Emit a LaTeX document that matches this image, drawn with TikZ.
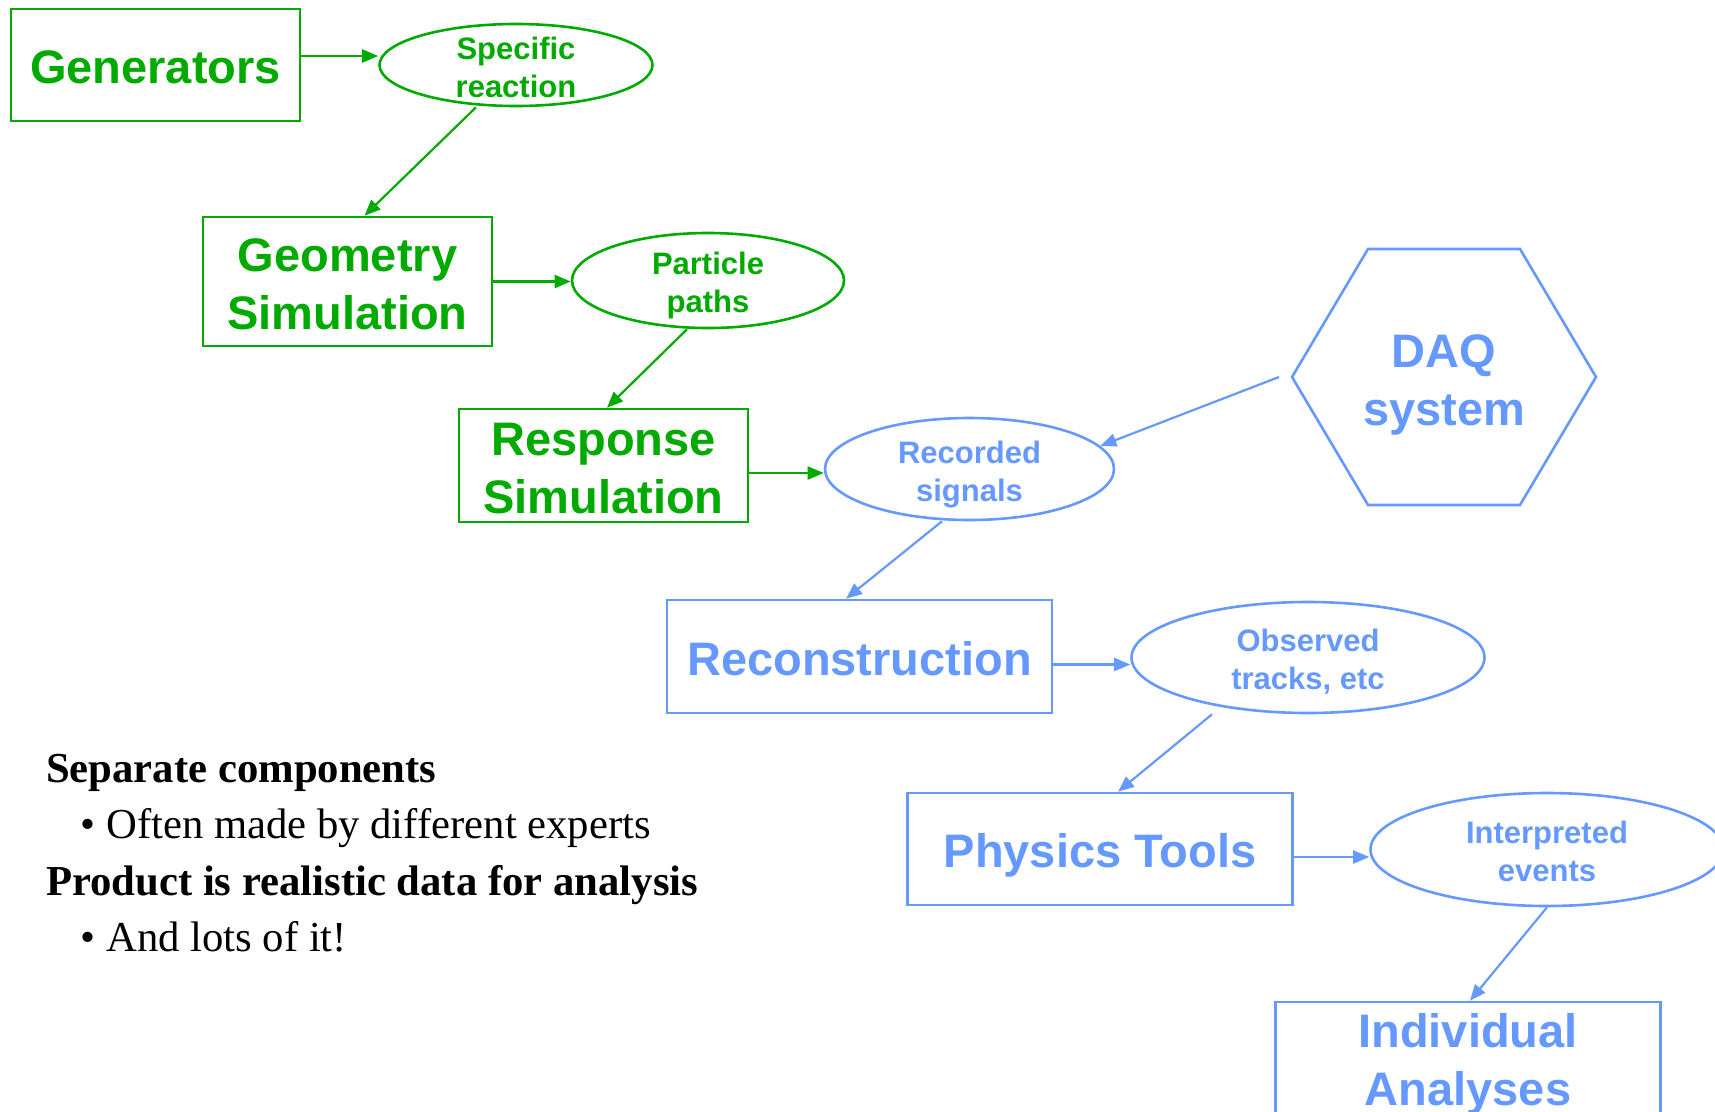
\documentclass[tikz,border=0pt]{standalone}
\usepackage{fontspec}
\setmainfont{Liberation Serif}
\newfontfamily\arialf{Liberation Sans}
\usetikzlibrary{shapes.geometric,arrows.meta}
\definecolor{gr}{RGB}{0,170,0}
\definecolor{bl}{RGB}{102,153,255}
\newcommand\vs{\rule[-0.234em]{0pt}{1.184em}}
\tikzset{
 box/.style={draw, rectangle, line width=2.6pt, inner sep=0pt},
 oval/.style={draw, ellipse, line width=2.6pt, inner sep=0pt},
 bigt/.style={inner sep=0pt, align=center, yshift=-1.8pt, font=\arialf\bfseries\fontsize{47}{58}\selectfont},
 smallt/.style={inner sep=0pt, align=center, yshift=-2pt, font=\arialf\bfseries\fontsize{31}{38}\selectfont},
 arr/.style={line width=2.2pt, -{Triangle[length=16pt,width=13pt]}},
 g/.style={gr},
 b/.style={bl},
 txt/.style={anchor=base west, inner sep=0pt, font=\fontsize{42.7}{50}\selectfont},
 btxt/.style={anchor=base west, inner sep=0pt, font=\bfseries\fontsize{42.7}{50}\selectfont},
}
\begin{document}
\begin{tikzpicture}[x=1pt,y=-1pt]
\useasboundingbox (0,0) rectangle (1715,1111);
\fill[white] (0,0) rectangle (1715,1111);
\clip (0,0) rectangle (1715,1111);
% green part
\node[box,g,minimum width=289pt,minimum height=112pt] (gen) at (155.5,65) {};
\node[bigt,g] (genT) at (gen.center) {\vs Generators};
\node[oval,g,minimum width=273pt,minimum height=82pt] (spec) at (516,65) {};
\node[smallt,g] (specT) at (spec.center) {\vs Specific\\\vs reaction};
\node[box,g,minimum width=289pt,minimum height=129pt] (geo) at (347.5,281.5) {};
\node[bigt,g] (geoT) at (geo.center) {\vs Geometry\\\vs Simulation};
\node[oval,g,minimum width=272pt,minimum height=95pt] (part) at (708,280.5) {};
\node[smallt,g] (partT) at (part.center) {\vs Particle\\\vs paths};
\node[box,g,minimum width=289pt,minimum height=113pt] (resp) at (603.5,465.5) {};
\node[bigt,g] (respT) at (resp.center) {\vs Response\\\vs Simulation};
% blue part
\node[oval,b,minimum width=289pt,minimum height=102pt] (rec) at (969.5,469) {};
\node[smallt,b] (recT) at (rec.center) {\vs Recorded\\\vs signals};
\node[bigt,b] (daq) at (1444,378) {\vs DAQ\\\vs system};
\draw[bl,line width=2.6pt,line join=miter] (1292,377) -- (1368,249) -- (1520,249) -- (1596,377) -- (1520,505) -- (1368,505) -- cycle;
\coordinate (daqin) at (1279,377);
\node[box,b,minimum width=385pt,minimum height=113pt] (recon) at (859.5,656.5) {};
\node[bigt,b] (reconT) at (recon.center) {\vs Reconstruction};
\node[oval,b,minimum width=353pt,minimum height=111pt] (obs) at (1308,657.5) {};
\node[smallt,b] (obsT) at (obs.center) {\vs Observed\\\vs tracks, etc};
\node[box,b,minimum width=385pt,minimum height=112pt] (phys) at (1100,849) {};
\node[bigt,b] (physT) at (phys.center) {\vs Physics Tools};
\node[oval,b,minimum width=353pt,minimum height=113pt] (interp) at (1547,849.5) {};
\node[smallt,b] (interpT) at (interp.center) {\vs Interpreted\\\vs events};
\node[box,b,minimum width=385pt,minimum height=129pt] (indiv) at (1468,1066.5) {};
\node[bigt,b] (indivT) at (1468,1058) {\vs Individual\\\vs Analyses};
% arrows
\draw[arr,gr] ([yshift=9pt]gen.east) -- ([yshift=9pt]spec.west);
\draw[arr,gr] ([xshift=-40pt]spec.south) -- ([xshift=17pt]geo.north);
\draw[arr,gr] (geo.east) -- (geo.east -| part.west);
\draw[arr,gr] ([xshift=-21pt]part.south) -- ([xshift=3.5pt]resp.north);
\draw[arr,gr] ([yshift=-7.5pt]resp.east) -- ([yshift=-4pt]rec.west);
\draw[arr,bl] (daqin) -- (rec.10);
\draw[arr,bl] ([xshift=-27.5pt]rec.south) -- ([xshift=-13.5pt]recon.north);
\draw[arr,bl] ([yshift=-8pt]recon.east) -- ([yshift=-7pt]obs.west);
\draw[arr,bl] ([xshift=-96pt]obs.south) -- ([xshift=18pt]phys.north);
\draw[arr,bl] ([yshift=-8pt]phys.east) -- ([yshift=-7.5pt]interp.west);
\draw[arr,bl] (interp.south) -- ([xshift=2pt]indiv.north);
% text
\node[btxt] (t1) at (46,782) {Separate components};
\node[txt] (b1) at (80,838) {\textbullet};
\node[txt] (t2) at (106,838) {Often made by different experts};
\node[btxt] (t3) at (46,895) {Product is realistic data for analysis};
\node[txt] (b2) at (80,951) {\textbullet};
\node[txt] (t4) at (106,951) {And lots of it!};
\end{tikzpicture}
\end{document}
